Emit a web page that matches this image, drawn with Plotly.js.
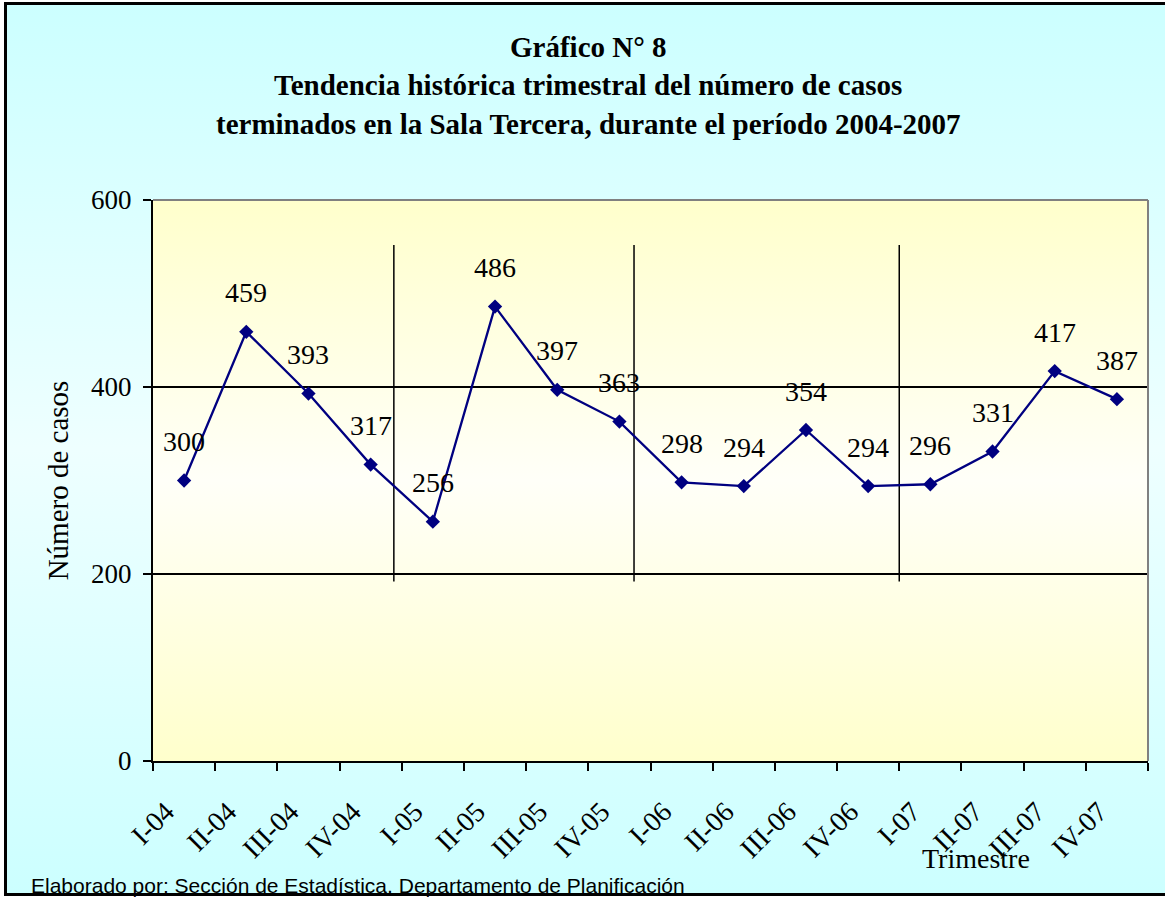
<!DOCTYPE html>
<html><head><meta charset="utf-8">
<script src="https://cdn.plot.ly/plotly-3.0.1.min.js"></script>
<style>
html,body{margin:0;padding:0;background:#fff;}
#wrap{position:relative;width:1165px;height:897px;overflow:hidden;background:#fff;}
#frame{position:absolute;left:4px;top:2px;width:1175px;height:888px;border:3px solid #000;background:linear-gradient(to bottom,#CCFFFF 0%,#EEFFFF 50%,#CCFFFF 100%);}
#plotbg{position:absolute;left:153px;top:200px;width:995px;height:561px;background:linear-gradient(to bottom,#FFFFCC 0%,#FFFFF8 50%,#FFFFCC 100%);}
#chart{position:absolute;left:0;top:0;width:1165px;height:897px;}
</style></head>
<body>
<div id="wrap"><div id="frame"></div><div id="plotbg"></div><div id="chart"></div></div>
<script>
const trimestres = ["I-04","II-04","III-04","IV-04","I-05","II-05","III-05","IV-05","I-06","II-06","III-06","IV-06","I-07","II-07","III-07","IV-07"];
const casos = [300,459,393,317,256,486,397,363,298,294,354,294,296,331,417,387];
const separadores = [3.373, 7.235, 11.5];
const tituloLineas = ["Gráfico N° 8","Tendencia histórica trimestral del número de casos","terminados en la Sala Tercera, durante el período 2004-2007"];
const fuente = "Elaborado por: Sección de Estadística, Departamento de Planificación";

const serif = "Liberation Serif, Times New Roman, serif";
const L = 153, T = 200, W = 995, H = 561;
const px2x = p => (p - L) / W;
const py2y = p => (T + H - p) / H;

const annotations = [];
const tY = [47, 85, 124];
tituloLineas.forEach((t, i) => annotations.push({
  xref: 'paper', yref: 'paper', x: px2x(588), y: py2y(tY[i]), xanchor: 'center', yanchor: 'middle',
  text: '<b>' + t + '</b>', showarrow: false, font: {family: serif, size: 29, color: '#000'}
}));
annotations.push({xref:'paper', yref:'paper', x: px2x(976), y: py2y(858), xanchor:'center', yanchor:'middle',
  text:'Trimestre', showarrow:false, font:{family: serif, size:28, color:'#000'}});
annotations.push({xref:'paper', yref:'paper', x: px2x(29), y: py2y(885), xanchor:'left', yanchor:'middle',
  text: fuente, showarrow:false, font:{family:'Liberation Sans, Arial, sans-serif', size:21, color:'#000'}});
trimestres.forEach((c, i) => annotations.push({
  x: c, y: casos[i], xref:'x', yref:'y', text: String(casos[i]), showarrow:false,
  yshift: 39, yanchor:'middle', font:{family: serif, size:28, color:'#000'}
}));

const shapes = [];
separadores.forEach(s => shapes.push({type:'line', xref:'x', yref:'y', x0:s, x1:s, y0:192, y1:552, line:{color:'#000', width:1.5}, layer:'below'}));
shapes.push({type:'line', xref:'paper', yref:'paper', x0:0, x1:1, y0:1, y1:1, line:{color:'#808080', width:2}});
shapes.push({type:'line', xref:'paper', yref:'paper', x0:1, x1:1, y0:0, y1:1, line:{color:'#808080', width:2}});

const trace = {
  type:'scatter', mode:'lines+markers', x: trimestres, y: casos,
  line:{color:'#000080', width:2.3},
  marker:{symbol:'diamond', size:11, color:'#000080'},
  hoverinfo:'x+y'
};

const layout = {
  width:1165, height:897,
  margin:{l:L, r:1165-L-W, t:T, b:897-T-H, pad:0},
  paper_bgcolor:'rgba(0,0,0,0)', plot_bgcolor:'rgba(0,0,0,0)',
  showlegend:false,
  font:{family: serif, color:'#000', size:27},
  xaxis:{type:'category', categoryorder:'array', categoryarray: trimestres, range:[-0.5,15.5],
    showline:true, linecolor:'#000', linewidth:2, ticks:'outside', tickson:'boundaries',
    ticklen:8, tickwidth:2, tickcolor:'#000', tickangle:-45, tickfont:{family:serif, size:28},
    ticklabelstandoff:21, ticklabelshift:-18,
    showgrid:false, zeroline:false, fixedrange:true, automargin:false},
  yaxis:{range:[0,600], tick0:0, dtick:200, showline:true, linecolor:'#000', linewidth:2,
    ticks:'outside', ticklen:8, tickwidth:2, tickcolor:'#000', showgrid:true, gridcolor:'#000', gridwidth:2,
    zeroline:false, tickfont:{family:serif, size:27}, ticklabelstandoff:6, fixedrange:true, automargin:false,
    title:{text:'Número de casos', font:{family:serif, size:29}, standoff:14}},
  shapes: shapes,
  annotations: annotations
};
Plotly.newPlot('chart', [trace], layout, {displayModeBar:false, staticPlot:true});
</script>
</body></html>
